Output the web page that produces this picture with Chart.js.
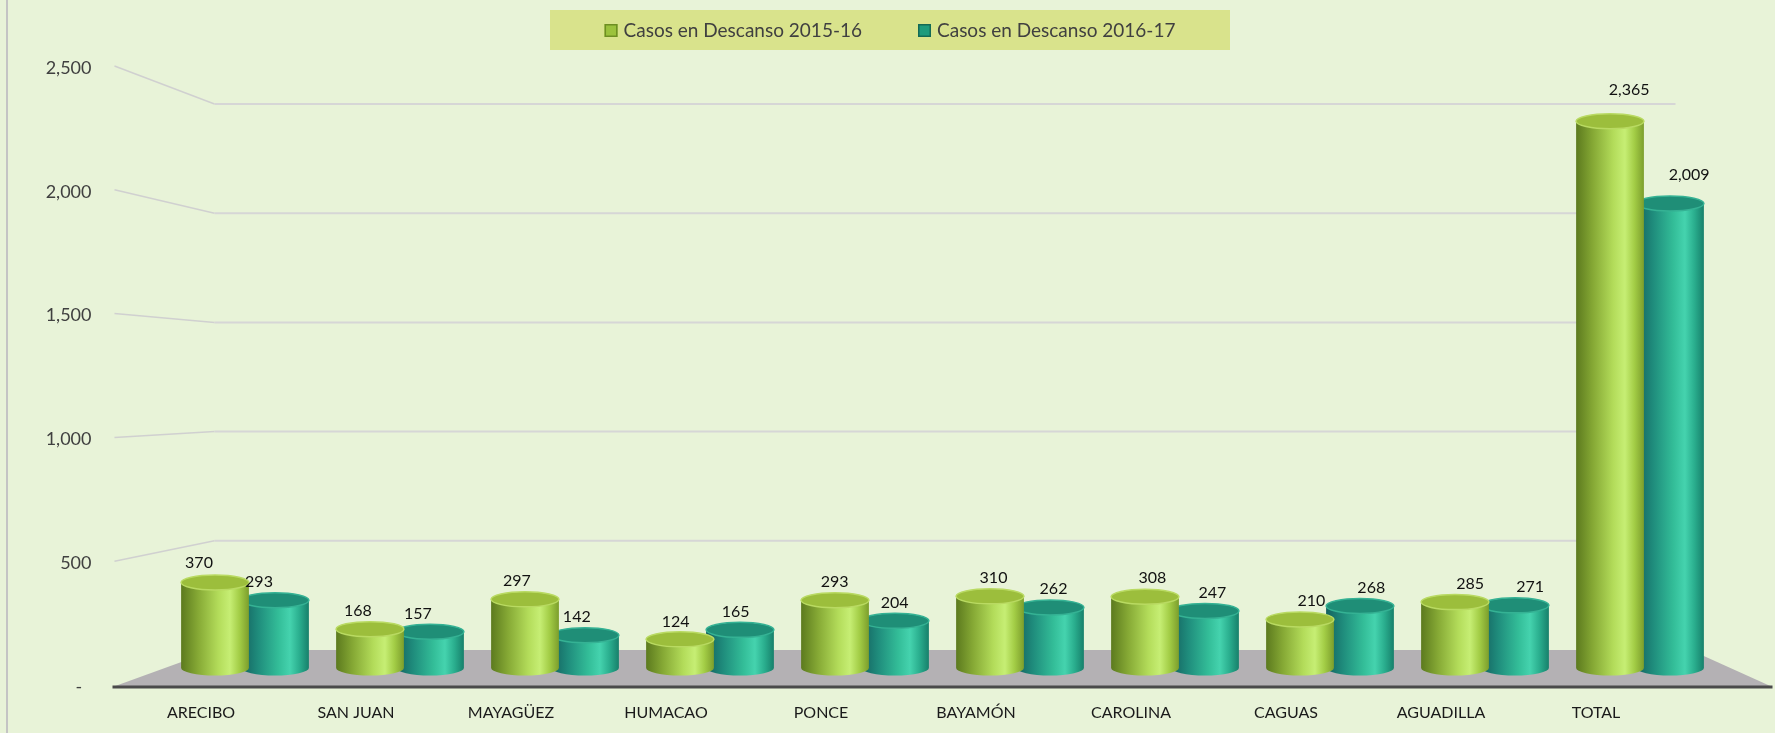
<!DOCTYPE html>
<html>
<head>
<meta charset="utf-8">
<script src="https://cdn.jsdelivr.net/npm/chart.js@4.4.0/dist/chart.umd.min.js"></script>
<style>
  html, body { margin: 0; padding: 0; background: #E8F3D8; }
  canvas { display: block; }
</style>
</head>
<body>
<canvas id="chart" width="1775" height="733"></canvas>
<script>
const categories = ['ARECIBO', 'SAN JUAN', 'MAYAGÜEZ', 'HUMACAO', 'PONCE', 'BAYAMÓN', 'CAROLINA', 'CAGUAS', 'AGUADILLA', 'TOTAL']
const casos1516 = [370, 168, 297, 124, 293, 310, 308, 210, 285, 2365]
const casos1617 = [293, 157, 142, 165, 204, 262, 247, 268, 271, 2009]
const seriesLabels = ['Casos en Descanso 2015-16', 'Casos en Descanso 2016-17']
const yTicks = [0, 500, 1000, 1500, 2000, 2500]

const CAT_PCT = 0.774
const BAR_PCT = 1.13
const RY = 7.5

const greenStops = [[0, '#5C7A1E'], [0.25, '#86A935'], [0.55, '#B3DC5A'], [0.72, '#C6EE74'], [0.86, '#A3CD46'], [1, '#7C9E2C']]
const tealStops = [[0, '#14615F'], [0.25, '#1F8C7C'], [0.55, '#33BD98'], [0.72, '#45D3AE'], [0.86, '#2AAE8E'], [1, '#17806B']]

const fmt = (v) => v.toLocaleString('en-US')

// horizontal gradient across each bar so it reads as a cylinder
function cylinderFill(stops, solid) {
  return (c) => {
    const chart = c.chart
    if (!chart.chartArea || c.type !== 'data' || !chart.scales.x) return solid
    const xs = chart.scales.x
    const slot = xs.width / categories.length * CAT_PCT / 2
    const cx = xs.getPixelForValue(c.dataIndex) + (c.datasetIndex === 0 ? -slot / 2 : slot / 2)
    const half = slot * BAR_PCT / 2
    const g = chart.ctx.createLinearGradient(cx - half, 0, cx + half, 0)
    stops.forEach(([o, col]) => g.addColorStop(o, col))
    return g
  }
}

const tops = [
  { fill: '#9CBE3C', rim: '#B9DA62' },
  { fill: '#1F8E77', rim: '#35B294' },
]

// floor, perspective gridlines, legend box
const decor = {
  id: 'decor',
  beforeDraw(chart) {
    const { ctx } = chart
    ctx.save()
    ctx.fillStyle = '#E8F3D8'
    ctx.fillRect(0, 0, chart.width, chart.height)
    ctx.fillStyle = '#C4C4C4'
    ctx.fillRect(6, 0, 2, chart.height)

    // legend
    const boxL = 550, boxR = 1230, boxT = 10, boxB = 50
    ctx.fillStyle = '#D9E38C'
    ctx.fillRect(boxL, boxT, boxR - boxL, boxB - boxT)
    ctx.font = '19px Lato'
    ctx.textBaseline = 'middle'
    const marks = [['#9BC23C', '#6E8E22'], ['#1E9B7C', '#146A55']]
    const widths = seriesLabels.map(t => 19 + ctx.measureText(t).width)
    const gap = 56
    let x = (boxL + boxR) / 2 - (widths[0] + widths[1] + gap) / 2
    const cy = (boxT + boxB) / 2
    seriesLabels.forEach((t, i) => {
      ctx.fillStyle = marks[i][0]
      ctx.fillRect(x, cy - 6, 13, 13)
      ctx.strokeStyle = marks[i][1]
      ctx.lineWidth = 1.5
      ctx.strokeRect(x + 0.75, cy - 5.25, 11.5, 11.5)
      ctx.fillStyle = '#404040'
      ctx.textAlign = 'left'
      ctx.fillText(t, x + 19, cy + 1)
      x += widths[i] + gap
    })
    ctx.restore()
  },
  beforeDatasetsDraw(chart) {
    const { ctx, chartArea: { left: L, right: R, bottom: B } } = chart
    const yb = chart.scales.yb
    const y2 = chart.scales.y2
    const backY = yb.getPixelForValue(0)
    ctx.save()
    // floor
    ctx.beginPath()
    ctx.moveTo(L - 55, B)
    ctx.lineTo(L + 47, backY)
    ctx.lineTo(R - 27, backY)
    ctx.lineTo(R + 55, B)
    ctx.closePath()
    ctx.fillStyle = '#B4B1B4'
    ctx.fill()
    ctx.fillStyle = '#4A4A4A'
    ctx.fillRect(L - 55, B - 1.5, R - L + 110, 3)
    // gridlines
    yTicks.slice(1).forEach(v => {
      const by = yb.getPixelForValue(v)
      ctx.strokeStyle = '#D0D0D0'
      ctx.lineWidth = 1.5
      ctx.beginPath()
      ctx.moveTo(L - 53, y2.getPixelForValue(v) - 2)
      ctx.lineTo(L + 47, by)
      ctx.stroke()
      ctx.strokeStyle = '#D6D6D6'
      ctx.lineWidth = 2
      ctx.beginPath()
      ctx.moveTo(L + 47, by)
      ctx.lineTo(R - 42, by)
      ctx.stroke()
    })
    ctx.restore()
  },
  afterDatasetDraw(chart, args) {
    const { ctx } = chart
    const t = tops[args.index]
    ctx.save()
    args.meta.data.forEach(el => {
      const rx = el.width / 2
      ctx.beginPath()
      ctx.ellipse(el.x, el.base, rx, RY, 0, 0, Math.PI)
      ctx.fillStyle = el.options.backgroundColor
      ctx.fill()
      ctx.beginPath()
      ctx.ellipse(el.x, el.y, rx, RY, 0, 0, Math.PI * 2)
      ctx.fillStyle = t.fill
      ctx.fill()
      ctx.strokeStyle = t.rim
      ctx.lineWidth = 1.5
      ctx.stroke()
    })
    ctx.restore()
  },
  afterDatasetsDraw(chart) {
    const { ctx } = chart
    ctx.save()
    ctx.font = '16px Lato'
    ctx.fillStyle = '#111111'
    ctx.textAlign = 'center'
    ctx.textBaseline = 'middle'
    chart.data.datasets.forEach((ds, di) => {
      chart.getDatasetMeta(di).data.forEach((el, i) => {
        const v = ds.data[i]
        ctx.fillText(fmt(v), el.x - 16 + i * 3.9, el.y - (17 + v * 0.006))
      })
    })
    ctx.restore()
  },
}

new Chart(document.getElementById('chart'), {
  type: 'bar',
  data: {
    labels: categories,
    datasets: [
      {
        label: seriesLabels[0],
        data: casos1516,
        yAxisID: 'y',
        backgroundColor: cylinderFill(greenStops, '#9BC23C'),
        borderWidth: 0,
        categoryPercentage: CAT_PCT,
        barPercentage: BAR_PCT,
      },
      {
        label: seriesLabels[1],
        data: casos1617,
        yAxisID: 'y',
        backgroundColor: cylinderFill(tealStops, '#1E9B7C'),
        borderWidth: 0,
        categoryPercentage: CAT_PCT,
        barPercentage: BAR_PCT,
      },
    ],
  },
  options: {
    responsive: false,
    animation: false,
    devicePixelRatio: 1,
    layout: { padding: { top: 68, right: 57.5, bottom: 0, left: 0 } },
    plugins: {
      legend: { display: false },
      tooltip: { enabled: false },
    },
    scales: {
      x: {
        grid: { display: false, drawTicks: false },
        border: { display: false },
        ticks: {
          font: { family: 'Lato', size: 16 },
          color: '#1A1A1A',
          padding: 16,
          labelOffset: -44,
          maxRotation: 0,
          autoSkip: false,
        },
        afterFit: (s) => { s.height = 46 },
      },
      // value scale of the bars (no labels, only spacing between axis text and plot)
      y: {
        position: 'left',
        weight: 0,
        min: -82.2,
        max: 2595.2,
        grid: { display: false, drawTicks: false },
        border: { display: false },
        ticks: { display: false },
        afterFit: (s) => { s.width = 74 },
      },
      // back wall gridlines
      yb: {
        display: false,
        min: -169.4,
        max: 2664.8,
      },
      // front axis labels
      y2: {
        position: 'left',
        weight: 10,
        min: 0,
        max: 2500,
        grid: { display: false, drawTicks: false },
        border: { display: false },
        ticks: {
          stepSize: 500,
          padding: 2,
          font: { family: 'Lato', size: 18 },
          color: '#404040',
          callback: (v) => v === 0 ? '-  ' : fmt(v),
        },
        afterFit: (s) => { s.width = 93.5 },
      },
    },
  },
  plugins: [decor],
})
</script>
</body>
</html>
